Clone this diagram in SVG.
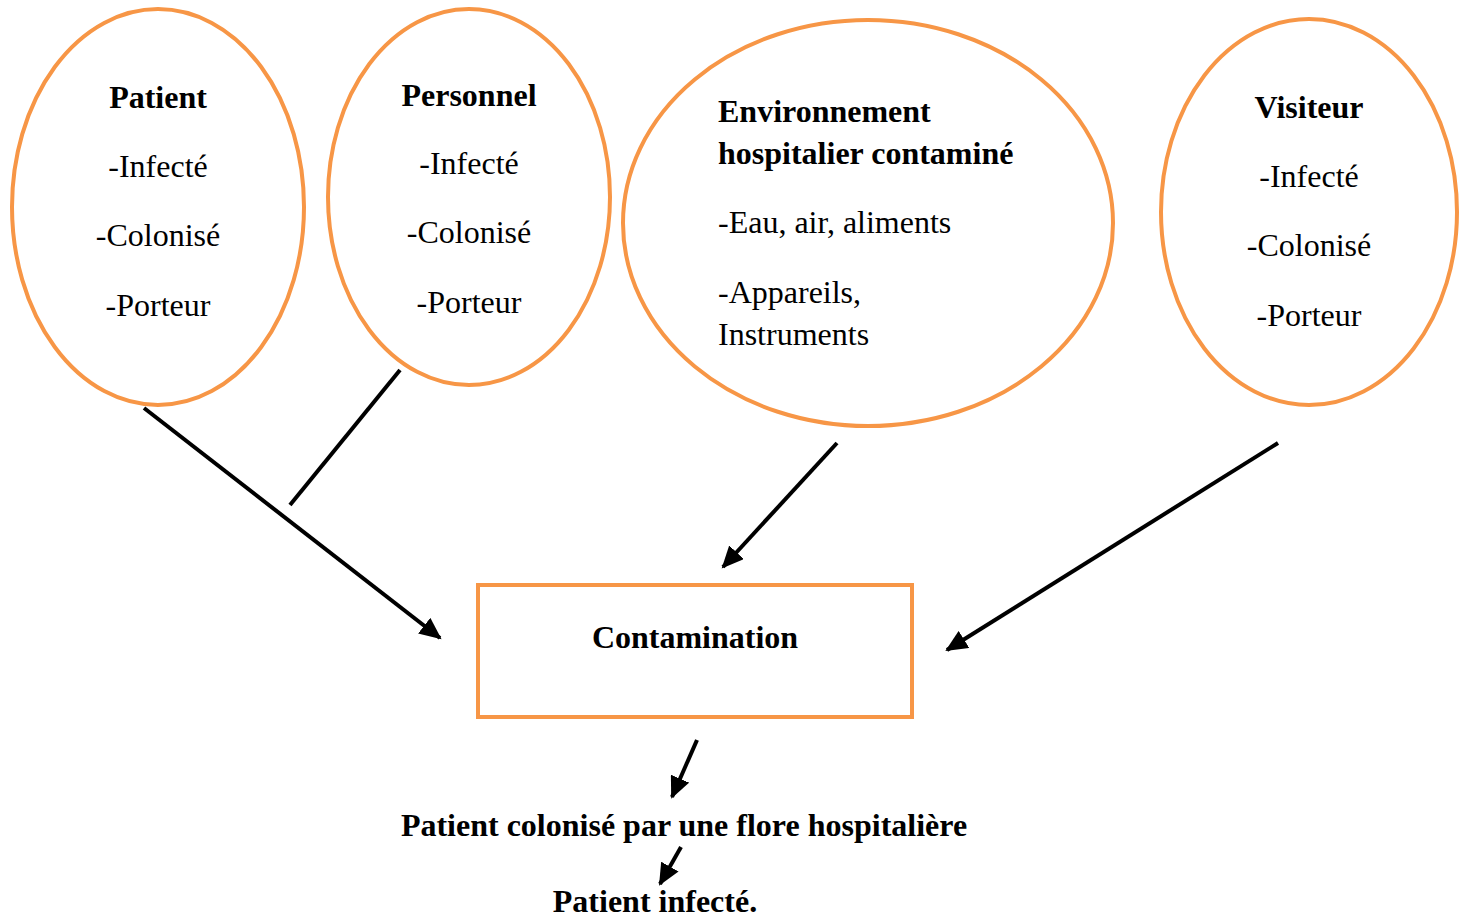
<svg xmlns="http://www.w3.org/2000/svg" width="1466" height="921" viewBox="0 0 1466 921">
<style>
.n{fill:none;stroke:#F79646;stroke-width:4}
text{font-family:"Liberation Serif","Times New Roman",serif;font-size:32px;fill:#000}
.b{font-weight:bold}
.c{text-anchor:middle}
.e{stroke:#000;stroke-width:4;fill:none}
</style>
<defs>
<marker id="ah" markerUnits="userSpaceOnUse" markerWidth="24" markerHeight="20" refX="20" refY="10" orient="auto">
<path d="M0,0 L22,10 L0,20 Z" fill="#000"/>
</marker>
</defs>
<rect width="1466" height="921" fill="#fff"/>
<g id="patient">
<ellipse class="n" cx="158" cy="207" rx="146" ry="198"/>
<text class="b c" x="158" y="108">Patient</text>
<text class="c" x="158" y="177">-Infecté</text>
<text class="c" x="158" y="246">-Colonisé</text>
<text class="c" x="158" y="316">-Porteur</text>
</g>
<g id="personnel">
<ellipse class="n" cx="469" cy="197" rx="141" ry="188"/>
<text class="b c" x="469" y="106">Personnel</text>
<text class="c" x="469" y="174">-Infecté</text>
<text class="c" x="469" y="243">-Colonisé</text>
<text class="c" x="469" y="313">-Porteur</text>
</g>
<g id="environnement">
<ellipse class="n" cx="868" cy="223" rx="245" ry="203"/>
<text class="b" x="718" y="122">Environnement</text>
<text class="b" x="718" y="164">hospitalier contaminé</text>
<text x="718" y="233">-Eau, air, aliments</text>
<text x="718" y="303">-Appareils,</text>
<text x="718" y="345">Instruments</text>
</g>
<g id="visiteur">
<ellipse class="n" cx="1309" cy="212" rx="148" ry="193"/>
<text class="b c" x="1309" y="118">Visiteur</text>
<text class="c" x="1309" y="187">-Infecté</text>
<text class="c" x="1309" y="256">-Colonisé</text>
<text class="c" x="1309" y="326">-Porteur</text>
</g>
<g id="contamination">
<rect class="n" x="478" y="585" width="434" height="132"/>
<text class="b c" x="695" y="648">Contamination</text>
</g>
<g id="colonise">
<text class="b c" x="684" y="836">Patient colonisé par une flore hospitalière</text>
</g>
<g id="infecte">
<text class="b c" x="655" y="912">Patient infecté.</text>
</g>
<g id="connectors">
<line class="e" x1="144" y1="408" x2="440" y2="638" marker-end="url(#ah)"/>
<line class="e" x1="400" y1="370" x2="290" y2="505"/>
<line class="e" x1="837" y1="443" x2="723" y2="567" marker-end="url(#ah)"/>
<line class="e" x1="1278" y1="443" x2="947" y2="650" marker-end="url(#ah)"/>
<line class="e" x1="697" y1="740" x2="672" y2="797" marker-end="url(#ah)"/>
<line class="e" x1="681" y1="847" x2="660" y2="884" marker-end="url(#ah)"/>
</g>
</svg>
